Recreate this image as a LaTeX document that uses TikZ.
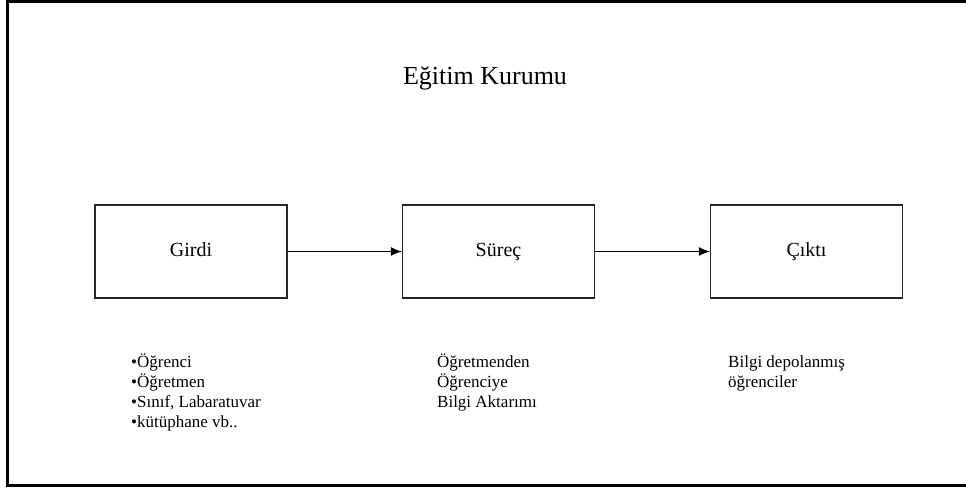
\documentclass[tikz,border=0pt]{standalone}
\usepackage{fontspec}
\setmainfont{Liberation Serif}
\usetikzlibrary{arrows.meta}
\begin{document}
\begin{tikzpicture}[x=1pt,y=-1pt,
  stagebox/.style={draw=black!85,line width=1.3pt,minimum width=192pt,minimum height=93pt,inner sep=0pt,text height=14pt,text depth=4pt,font=\fontsize{20}{24}\selectfont},
  flow/.style={line width=1pt,-{Latex[length=11pt,width=9pt]}},
  note/.style={anchor=base west,align=left,inner sep=0pt,font=\fontsize{17}{20}\selectfont}]
\useasboundingbox (0,0) rectangle (966,489);
\clip (0,0) rectangle (966,489);
\draw[line width=3pt] (970,1.5) -- (7.5,1.5) -- (7.5,485.5) -- (970,485.5);
\node[anchor=base,inner sep=0pt,font=\fontsize{26}{30}\selectfont] (title) at (485,85) {Eğitim Kurumu};
\node[stagebox] (girdi) at (191,251.5) {Girdi};
\node[stagebox] (surec) at (498.5,251.5) {Süreç};
\node[stagebox] (cikti) at (806.5,251.5) {Çıktı};
\draw[flow] (girdi) -- (surec);
\draw[flow] (surec) -- (cikti);
\node[note] (girdinote) at (131,427) {•Öğrenci\\•Öğretmen\\•Sınıf, Labaratuvar\\•kütüphane vb..};
\node[note] (surecnote) at (437,407) {Öğretmenden\\Öğrenciye\\Bilgi Aktarımı};
\node[note] (ciktinote) at (728,387) {Bilgi depolanmış\\öğrenciler};
\end{tikzpicture}
\end{document}
